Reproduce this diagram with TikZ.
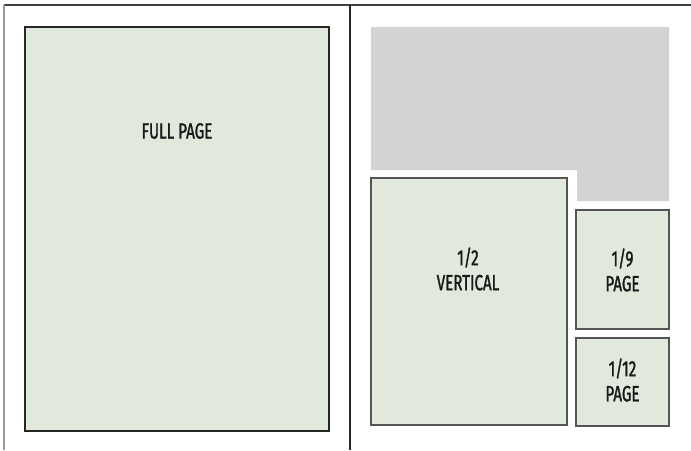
\documentclass[tikz,border=0pt]{standalone}
\usepackage{fontspec}
\setmainfont{Fira Sans}[FakeStretch=0.69,FakeBold=1.3]
\definecolor{adgreen}{HTML}{E1E8DC}
\definecolor{adgray}{HTML}{D3D3D5}
\definecolor{edgegray}{HTML}{555555}
\begin{document}
\begin{tikzpicture}[x=1pt,y=-1pt,
  adbox/.style={draw=edgegray,fill=adgreen,line width=1.1pt},
  lbl/.style={font=\fontsize{22}{25}\selectfont,align=center,text=black!90,inner sep=0pt}]
\useasboundingbox (0,0) rectangle (691,450);
% frame lines
\draw[line width=1.2pt,black!75] (4,5) -- (691,5);
\draw[line width=1.6pt,gray!80] (4,5) -- (4,450);
\draw[line width=1.3pt,black!85] (350,5) -- (350,450);
% full page
\draw[adbox,draw=black!85] (25,27) rectangle (329,431);
\node[lbl] (full) at (177,131) {FULL PAGE};
% gray area
\fill[adgray] (371,27) -- (669,27) -- (669,201) -- (577,201) -- (577,170) -- (371,170) -- cycle;
% half vertical
\draw[adbox] (371,178) rectangle (567,425);
\node[lbl] (half) at (468,269) {1/2\\VERTICAL};
% 1/9 page
\draw[adbox] (576,210) rectangle (669,329);
\node[lbl] (ninth) at (622.5,270) {1/9\\PAGE};
% 1/12 page
\draw[adbox] (576,338) rectangle (669,426);
\node[lbl] (twelfth) at (622.5,380) {1/12\\PAGE};
\end{tikzpicture}
\end{document}
